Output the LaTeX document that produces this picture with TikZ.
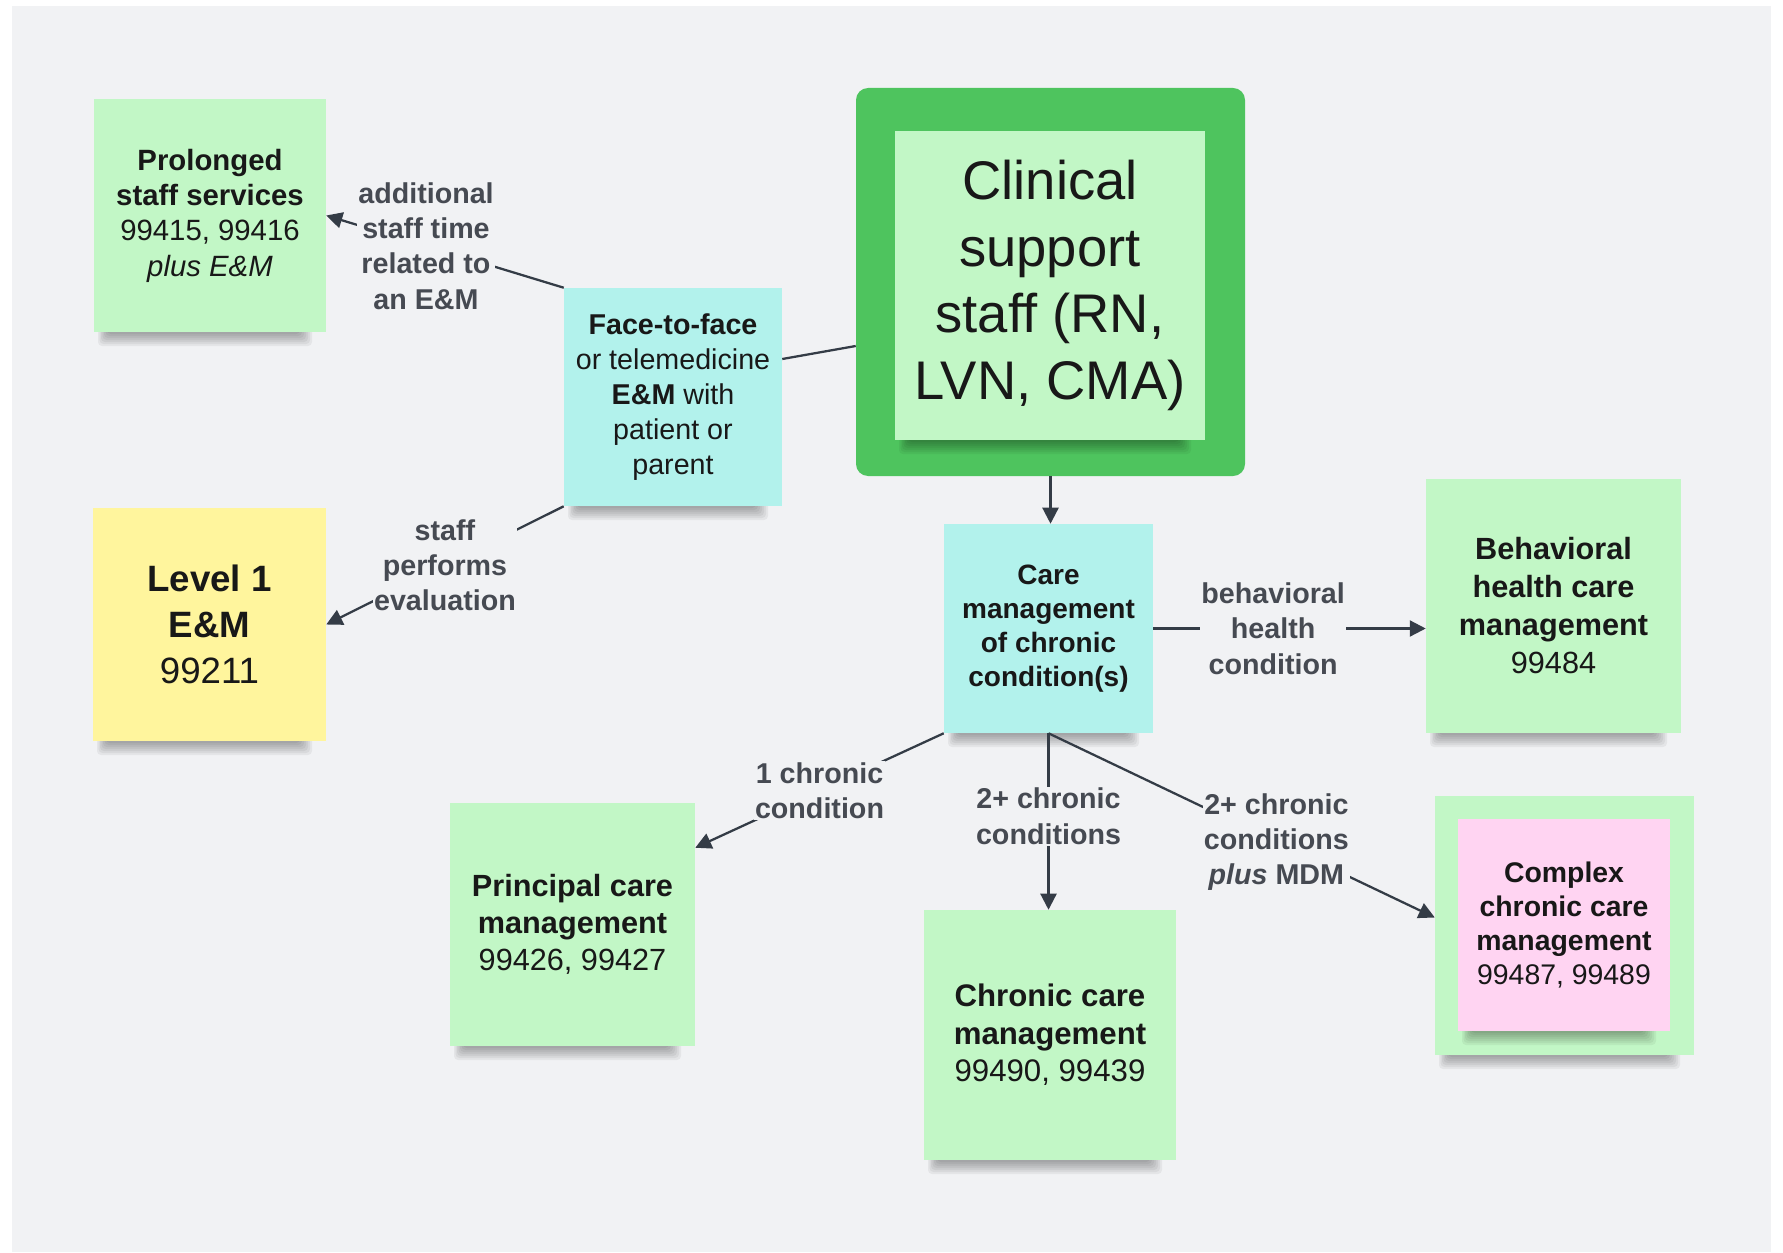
\documentclass[tikz,border=0pt]{standalone}
\usepackage{fontspec}
\setmainfont{Liberation Sans}
\usetikzlibrary{arrows.meta,calc}
\definecolor{bgc}{RGB}{241,242,244}
\definecolor{notegreen}{RGB}{194,247,198}
\definecolor{notecyan}{RGB}{178,242,236}
\definecolor{noteyellow}{RGB}{255,245,157}
\definecolor{notepink}{RGB}{255,212,242}
\definecolor{framegreen}{RGB}{78,196,94}
\definecolor{txt}{RGB}{24,24,24}
\definecolor{labc}{RGB}{70,74,82}
\definecolor{linec}{RGB}{52,60,70}
\newcommand{\fsz}[2]{\fontsize{#1}{#2}\selectfont}
% soft shadow under a note: left x, right x, bottom y (picture units)
\newcommand{\noteshadow}[3]{%
  \foreach \k in {0,...,6}{%
    \fill[black,opacity=0.05,rounded corners=3pt] (#1+4+1.5*\k,#3-6) rectangle (#2-14-2*\k,#3+14-2*\k);}}
\begin{document}
\begin{tikzpicture}[x=0.75pt,y=-0.75pt,
  note/.style={rectangle,inner sep=0pt,align=center,text=txt},
  frame/.style={rectangle,rounded corners=9pt,fill=framegreen,inner sep=0pt},
  lab/.style={fill=bgc,inner sep=1pt,align=center,text=labc,font=\fsz{21.5pt}{26.5pt}\bfseries},
  conn/.style={line width=1.7pt,draw=linec},
  arr/.style={conn,-{Triangle[length=12pt,width=12pt]}}]
\useasboundingbox (0,0) rectangle (1783,1252);
\fill[white] (0,0) rectangle (1783,1252);
\fill[bgc] (12,6) rectangle (1771,1252);

% outer frames
\node[frame,minimum width=291.75pt,minimum height=291pt] (clinframe) at (1050.5,282) {};
\noteshadow{1435}{1694}{1055}
\node[note,fill=notegreen,minimum width=194.25pt,minimum height=194.25pt] (cxframe) at (1564.5,925.5) {};

% note shadows
\noteshadow{94}{326}{332}
\noteshadow{93}{326}{741}
\noteshadow{564}{782}{506}
\noteshadow{895}{1205}{440}
\noteshadow{944}{1153}{733}
\noteshadow{1426}{1681}{733}
\noteshadow{450}{695}{1046}
\noteshadow{924}{1176}{1160}
\noteshadow{1458}{1670}{1031}

\node[note,fill=notegreen,minimum width=174pt,minimum height=174.75pt,font=\fsz{22pt}{26.5pt}] (prol) at (210,215.5)
  {\textbf{Prolonged}\\\textbf{staff services}\\99415, 99416\\\textit{plus E\&M}};
\node[note,fill=noteyellow,minimum width=174.75pt,minimum height=174.75pt,font=\fsz{27.5pt}{34.5pt}] (lvl) at (209.5,624.5)
  {\textbf{Level 1}\\\textbf{E\&M}\\99211};
\node[note,fill=notecyan,minimum width=163.5pt,minimum height=163.5pt,font=\fsz{21.5pt}{26.4pt}] (face) at (673,397)
  {\textbf{Face-to-face}\\or telemedicine\\\textbf{E\&M} with\\patient or\\parent};
\node[note,fill=notegreen,minimum width=232.5pt,minimum height=231.75pt,font=\fsz{40.8pt}{50pt}] (clin) at (1050,285.5)
  {Clinical\\support\\staff (RN,\\LVN, CMA)};
\node[note,fill=notecyan,minimum width=156.75pt,minimum height=156.75pt,font=\fsz{21pt}{25.5pt}\bfseries] (care) at (1048.5,628.5)
  {Care\\management\\of chronic\\condition(s)};
\node[note,fill=notegreen,minimum width=191.25pt,minimum height=190.5pt,font=\fsz{23pt}{28.5pt}] (beh) at (1553.5,606)
  {\textbf{Behavioral}\\\textbf{health care}\\\textbf{management}\\99484};
\node[note,fill=notegreen,minimum width=183.75pt,minimum height=182.25pt,font=\fsz{23pt}{27.7pt}] (pcm) at (572.5,924.5)
  {\textbf{Principal care}\\\textbf{management}\\99426, 99427};
\node[note,fill=notegreen,minimum width=189pt,minimum height=187.5pt,font=\fsz{23.4pt}{28pt}] (ccm) at (1050,1035)
  {\textbf{Chronic care}\\\textbf{management}\\99490, 99439};
\node[note,fill=notepink,minimum width=159pt,minimum height=159pt,font=\fsz{21.3pt}{25.5pt}] (cx) at (1564,925)
  {\textbf{Complex}\\\textbf{chronic care}\\\textbf{management}\\99487, 99489};

\draw[conn] ([yshift=-48pt]clinframe.west) -- ([yshift=28.5pt]face.east);
\draw[arr] (face.north west) -- node[lab,pos=0.58] {additional\\staff time\\related to\\an E\&M} (prol.east);
\draw[arr] (face.south west) -- node[lab,pos=0.5] {staff\\performs\\evaluation} (lvl.east);
\draw[arr] (clinframe.south) -- (clinframe.south |- care.north);
\draw[arr] (care.east) -- node[lab,pos=0.44] {behavioral\\health\\condition} (care.east -| beh.west);
\draw[arr] (care.south west) -- node[lab,pos=0.5] {1 chronic\\condition} ([yshift=-33.75pt]pcm.north east);
\draw[arr] (care.south) -- node[lab,pos=0.47] {2+ chronic\\conditions} (care.south |- ccm.north);
\draw[arr] (care.south) -- node[lab,pos=0.59] {2+ chronic\\conditions\\\textit{plus} MDM} ([yshift=6pt]cxframe.west);
\end{tikzpicture}
\end{document}
